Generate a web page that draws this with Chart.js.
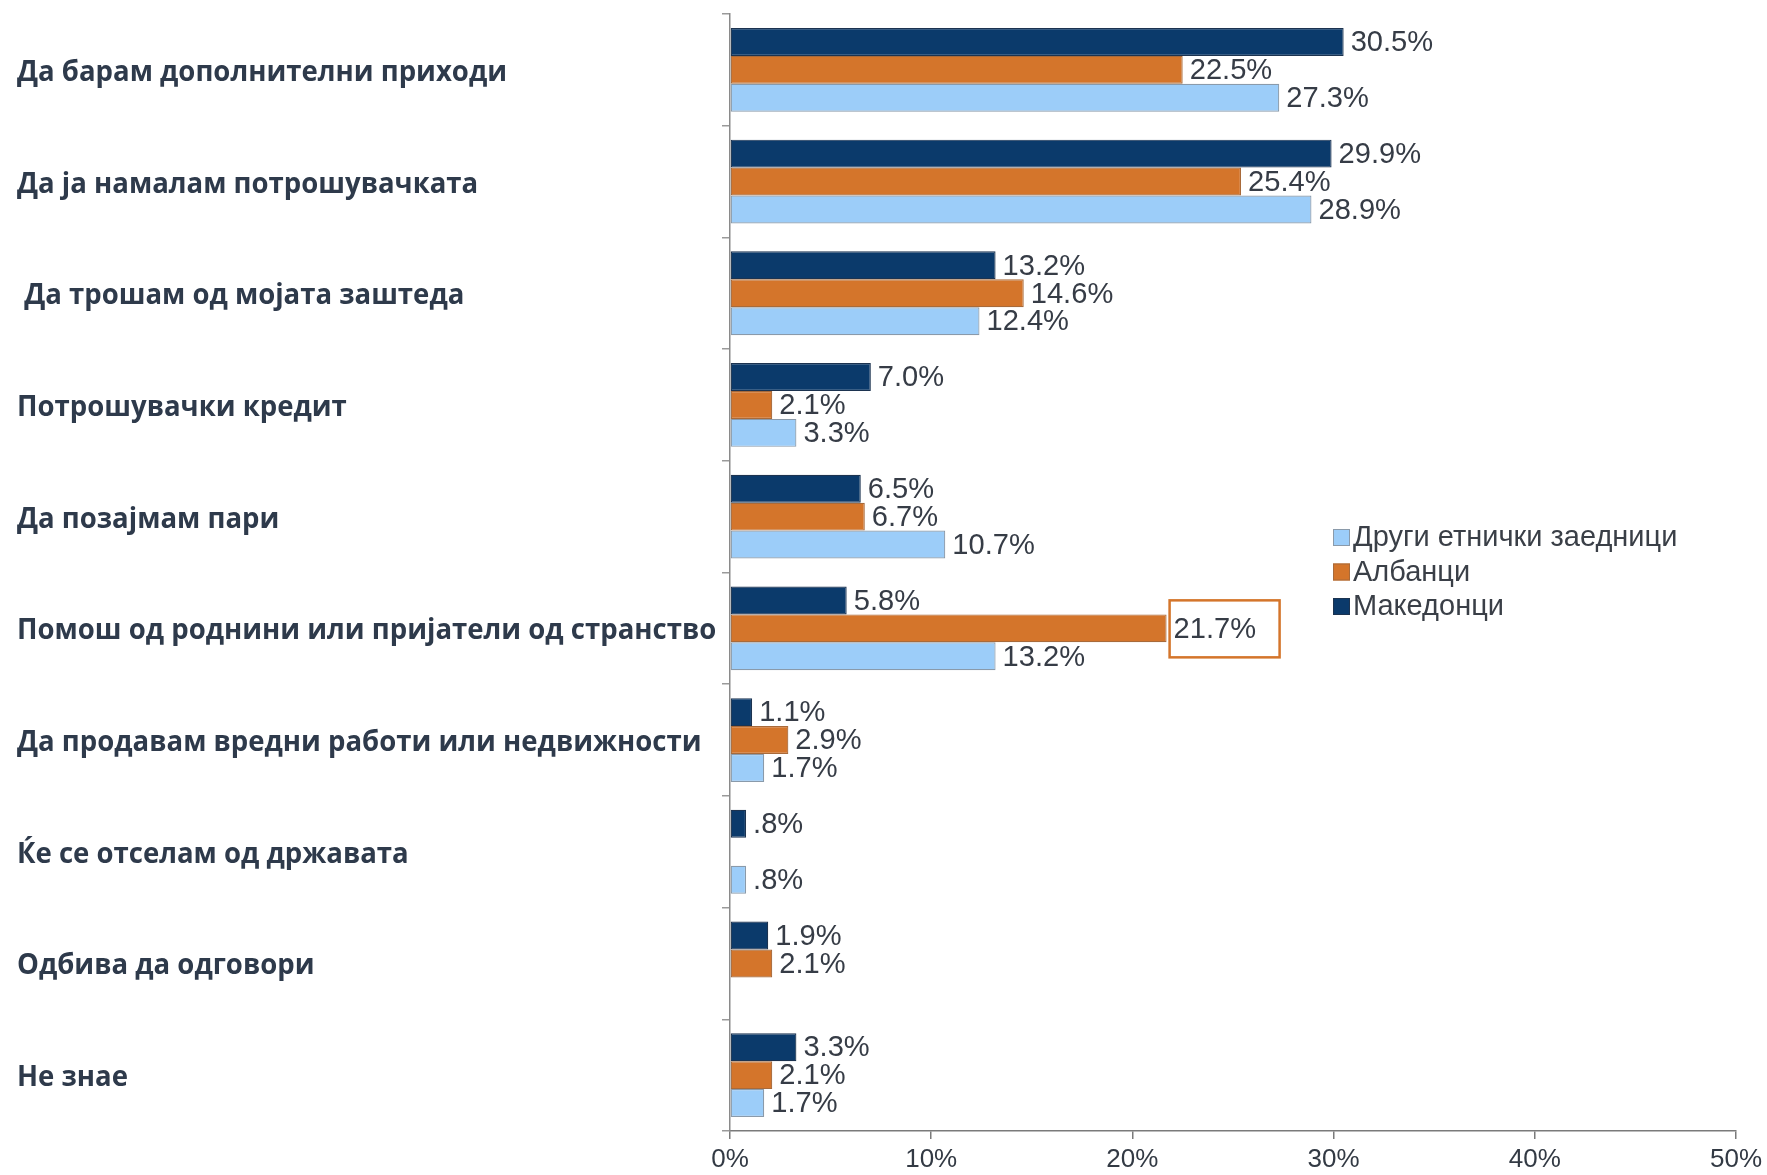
<!DOCTYPE html>
<html>
<head>
<meta charset="utf-8">
<script src="https://cdn.jsdelivr.net/npm/chart.js@4.4.1/dist/chart.umd.min.js"></script>
<style>
  body { margin: 0; background: #fff; }
</style>
</head>
<body>
<canvas id="plot" width="1767" height="1175"></canvas>
<script>
// categories, top to bottom
const categories = [
    "Да барам дополнителни приходи",
    "Да ја намалам потрошувачката",
    " Да трошам од мојата заштеда",
    "Потрошувачки кредит",
    "Да позајмам пари",
    "Помош од роднини или пријатели од странство",
    "Да продавам вредни работи или недвижности",
    "Ќе се отселам од државата",
    "Одбива да одговори",
    "Не знае"
];
// series values in percent (null = no bar)
const makedonci = [30.5, 29.9, 13.2, 7.0, 6.5, 5.8, 1.1, 0.8, 1.9, 3.3];
const albanci   = [22.5, 25.4, 14.6, 2.1, 6.7, 21.7, 2.9, null, 2.1, 2.1];
const drugi     = [27.3, 28.9, 12.4, 3.3, 10.7, 13.2, 1.7, 0.8, null, 1.7];
const seriesNames = ["Македонци", "Албанци", "Други етнички заедници"];
const xTicks = [0, 10, 20, 30, 40, 50];

// the one label that is boxed in the picture
const boxed = { dataset: 1, index: 5 };

const fillColors = ['#0b3a6b', '#d4752b', '#9ccdf9'];
const edgeColors = ['#1c3350', '#a86a3a', '#8a9aaa'];

/* formats 0.8 as ".8%" like the source */
const fmt = (v) => v.toFixed(1).replace(/^0\./, '.') + '%';

/* draws values at bar ends + the boxed label */
const valueLabels = {
    id: 'valueLabels',
    afterDatasetsDraw(chart) {
        const ctx = chart.ctx;
        ctx.save();
        ctx.font = '30px "Liberation Sans", Arial, sans-serif';
        ctx.fillStyle = '#363c46';
        ctx.textBaseline = 'middle';
        ctx.textAlign = 'left';
        chart.data.datasets.forEach((ds, di) => {
            const meta = chart.getDatasetMeta(di);
            meta.data.forEach((el, i) => {
                const v = ds.data[i];
                if (v === null || v === undefined) return;
                ctx.save();
                ctx.translate(el.x + 7, el.y + 1);
                ctx.scale(0.97, 1);
                ctx.fillText(fmt(v), 0, 0);
                ctx.restore();
                if (di === boxed.dataset && i === boxed.index) {
                    ctx.strokeStyle = '#d4752b';
                    ctx.lineWidth = 2.5;
                    ctx.strokeRect(el.x + 3, el.y - 28, 110, 57);
                }
            });
        });
        ctx.restore();
    }
};

/* category names, left aligned at the page edge */
const catLabels = {
    id: 'catLabels',
    afterDraw(chart) {
        const ctx = chart.ctx;
        const y = chart.scales.y;
        ctx.save();
        ctx.font = 'bold 28px "Open Sans", "Liberation Sans", sans-serif';
        ctx.fillStyle = '#2e3a4b';
        ctx.textBaseline = 'middle';
        ctx.textAlign = 'left';
        const w0 = ctx.measureText(categories[0]).width;
        const sx = 490 / w0;
        categories.forEach((c, i) => {
            ctx.save();
            ctx.translate(17, y.getPixelForValue(i) + 3);
            ctx.scale(sx, 1);
            ctx.fillText(c, 0, 0);
            ctx.restore();
        });
        ctx.restore();
    }
};

/* legend, reversed order, inside the plot */
const sideLegend = {
    id: 'sideLegend',
    afterDraw(chart) {
        const ctx = chart.ctx;
        ctx.save();
        ctx.font = '29px "Liberation Sans", Arial, sans-serif';
        ctx.textBaseline = 'middle';
        const x = 1333, y0 = 537, step = 34.5;
        [2, 1, 0].forEach((di, row) => {
            const yy = y0 + row * step;
            ctx.fillStyle = fillColors[di];
            ctx.fillRect(x, yy - 8, 17, 17);
            ctx.strokeStyle = edgeColors[di];
            ctx.lineWidth = 1;
            ctx.strokeRect(x + 0.5, yy - 7.5, 16, 16);
            ctx.fillStyle = '#3a3f47';
            ctx.fillText(seriesNames[di], x + 20, yy + 1);
        });
        ctx.restore();
    }
};

const data = {
    labels: categories,
    datasets: [makedonci, albanci, drugi].map((arr, k) => ({
        label: seriesNames[k],
        data: arr,
        backgroundColor: fillColors[k],
        borderColor: edgeColors[k],
        borderWidth: 1.2,
        borderSkipped: false,
        categoryPercentage: 0.75,
        barPercentage: 1.0
    }))
};

const config = {
    type: 'bar',
    data: data,
    options: {
        indexAxis: 'y',
        responsive: false,
        animation: false,
        devicePixelRatio: 1,
        layout: { padding: { top: 14, right: 31, left: 0, bottom: 0 } },
        plugins: { legend: { display: false }, tooltip: { enabled: false } },
        scales: {
            x: {
                min: 0,
                max: 50,
                afterBuildTicks: (s) => { s.ticks = xTicks.map(v => ({ value: v })); },
                afterFit: (s) => { s.height = 44; },
                ticks: {
                    callback: (v) => v + '%',
                    font: { size: 26, family: '"Liberation Sans", Arial, sans-serif' },
                    color: '#333a44',
                    padding: 5,
                    maxRotation: 0
                },
                grid: { drawOnChartArea: false, drawTicks: true, tickLength: 8, color: '#7a7a7a', lineWidth: 1.5 },
                border: { display: true, color: '#7a7a7a', width: 1.5 }
            },
            y: {
                afterFit: (s) => { s.width = 730; },
                ticks: { display: false },
                grid: { offset: true, drawOnChartArea: false, drawTicks: true, tickLength: 8, color: '#9a9a9a', lineWidth: 1.5 },
                border: { display: true, color: '#8a8a8a', width: 1.5 }
            }
        }
    },
    plugins: [valueLabels, catLabels, sideLegend]
};

const myChart = new Chart(document.getElementById('plot'), config);
</script>
</body>
</html>
